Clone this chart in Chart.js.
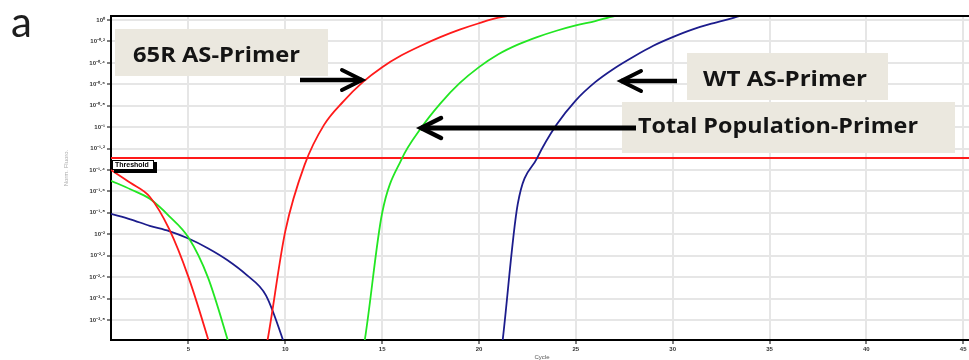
<!DOCTYPE html>
<html>
<head>
<meta charset="utf-8">
<script src="https://cdn.jsdelivr.net/npm/chart.js@4.4.1/dist/chart.umd.min.js"></script>
<style>
  html, body { margin: 0; padding: 0; background: #ffffff; }
  #wrap { width: 969px; height: 360px; position: relative; }
</style>
</head>
<body>
<div id="wrap"><canvas id="amp" width="969" height="360"></canvas></div>
<script>
// Amplification cycles
const cycles = [1, 2, 3, 4, 5, 6, 7, 8, 9, 10, 11, 12, 13, 14, 15, 16, 17, 18, 19, 20,
  21, 22, 23, 24, 25, 26, 27, 28, 29, 30, 31, 32, 33, 34, 35, 36, 37, 38, 39, 40,
  41, 42, 43, 44, 45];

// Normalised fluorescence per cycle
const as65R = [0.0398, 0.0302, 0.0224, 0.0112, 0.00398, 0.00107, 0.000251, 0.000158, 0.000851, 0.0107,
  0.0447, 0.105, 0.174, 0.263, 0.363, 0.468, 0.575, 0.692, 0.813, 0.933,
  1.05, 1.12, 1.15, 1.17, 1.19, 1.20, 1.21, 1.22, 1.23, 1.24,
  1.25, 1.25, 1.26, 1.26, 1.27, 1.27, 1.28, 1.28, 1.28, 1.29,
  1.29, 1.29, 1.30, 1.30, 1.30];

const totalPop = [0.0316, 0.0263, 0.0214, 0.0148, 0.00933, 0.00398, 0.00107, 0.000251, 0.000200, 0.000178,
  0.000166, 0.000158, 0.000195, 0.000794, 0.0158, 0.0501, 0.0977, 0.166, 0.257, 0.363,
  0.479, 0.589, 0.692, 0.794, 0.891, 0.977, 1.09, 1.14, 1.17, 1.19,
  1.20, 1.21, 1.22, 1.23, 1.24, 1.25, 1.25, 1.26, 1.26, 1.27,
  1.27, 1.28, 1.28, 1.28, 1.29];

const asWT = [0.0155, 0.0138, 0.0120, 0.0107, 0.00912, 0.00741, 0.00575, 0.00417, 0.00269, 0.000891,
  0.000251, 0.000200, 0.000178, 0.000166, 0.000158, 0.000151, 0.000148, 0.000145, 0.000148, 0.000155,
  0.000501, 0.0191, 0.0513, 0.105, 0.178, 0.263, 0.355, 0.457, 0.575, 0.692,
  0.813, 0.923, 1.03, 1.15, 1.17, 1.18, 1.19, 1.20, 1.21, 1.22,
  1.23, 1.24, 1.24, 1.25, 1.25];

const thresholdLevel = 0.0515;

// Axis ticks
const xTicks = [5, 10, 15, 20, 25, 30, 35, 40, 45];
const yTickExponents = [0, -0.2, -0.4, -0.6, -0.8, -1, -1.2, -1.4, -1.6, -1.8, -2, -2.2, -2.4, -2.6, -2.8];
const yTickLabels = ['10⁰', '10⁻⁰·²', '10⁻⁰·⁴', '10⁻⁰·⁶', '10⁻⁰·⁸', '10⁻¹', '10⁻¹·²', '10⁻¹·⁴',
  '10⁻¹·⁶', '10⁻¹·⁸', '10⁻²', '10⁻²·²', '10⁻²·⁴', '10⁻²·⁶', '10⁻²·⁸'];

const toPoints = vals => cycles.map((c, i) => ({ x: c, y: vals[i] }));

const LABEL_FONT = '"Open Sans", Lato, "DejaVu Sans", sans-serif';

function drawArrow(ctx, x1, y1, x2, y2, shaftW, headLen, headHalf) {
  ctx.save();
  ctx.strokeStyle = '#000';
  ctx.lineCap = 'butt';
  ctx.lineWidth = shaftW;
  ctx.beginPath();
  ctx.moveTo(x1, y1);
  ctx.lineTo(x2, y2);
  ctx.stroke();
  const dir = Math.sign(x2 - x1);
  ctx.lineWidth = shaftW - 0.5;
  ctx.lineCap = 'round';
  ctx.lineJoin = 'miter';
  ctx.beginPath();
  ctx.moveTo(x2 - dir * headLen, y2 - headHalf);
  ctx.lineTo(x2, y2);
  ctx.lineTo(x2 - dir * headLen, y2 + headHalf);
  ctx.stroke();
  ctx.restore();
}

// Beige callout with bold text stretched to span [tx, tx + tw]
function drawLabelBox(ctx, x, y, w, h, text, tx, tw, ty) {
  ctx.save();
  ctx.fillStyle = '#ebe8df';
  ctx.fillRect(x, y, w, h);
  ctx.fillStyle = '#141414';
  ctx.font = 'bold 21px ' + LABEL_FONT;
  ctx.textBaseline = 'middle';
  ctx.textAlign = 'left';
  const m = ctx.measureText(text).width;
  ctx.translate(tx, ty);
  ctx.scale(tw / m, 1);
  ctx.fillText(text, 0, 0);
  ctx.restore();
}

const decorations = {
  id: 'decorations',
  afterDatasetsDraw(chart) {
    const { ctx, chartArea: a, scales } = chart;
    // frame top edge
    ctx.save();
    ctx.strokeStyle = '#000';
    ctx.lineWidth = 2;
    ctx.beginPath();
    ctx.moveTo(a.left, a.top);
    ctx.lineTo(a.right, a.top);
    ctx.stroke();
    ctx.restore();

    // threshold tag
    const ty = scales.y.getPixelForValue(thresholdLevel);
    ctx.save();
    ctx.fillStyle = '#000';
    ctx.fillRect(a.left + 3, ty + 4, 43, 11);
    ctx.fillStyle = '#fff';
    ctx.fillRect(a.left + 1, ty + 2, 42, 10);
    ctx.strokeStyle = '#000';
    ctx.lineWidth = 1;
    ctx.strokeRect(a.left + 1.5, ty + 2.5, 41, 9);
    ctx.fillStyle = '#000';
    ctx.font = 'bold 7px "Liberation Sans", Arial, sans-serif';
    ctx.textBaseline = 'middle';
    ctx.fillText('Threshold', a.left + 4, ty + 7.5);
    ctx.restore();

    // callouts
    drawLabelBox(ctx, 115, 29, 213, 47, '65R AS-Primer', 133, 167, 56);
    drawArrow(ctx, 300, 80, 362, 80, 4.5, 20, 10);

    drawLabelBox(ctx, 687, 53, 201, 47, 'WT AS-Primer', 703, 164, 80);
    drawArrow(ctx, 677, 81, 621, 81, 4.5, 20, 10);

    drawLabelBox(ctx, 622, 102, 333, 51, 'Total Population-Primer', 638, 280, 127);
    drawArrow(ctx, 636, 128, 421, 128, 5, 20, 10);
  },
  afterDraw(chart) {
    const { ctx } = chart;
    ctx.save();
    // axis titles
    ctx.fillStyle = '#555';
    ctx.font = '6px "Liberation Sans", Arial, sans-serif';
    ctx.textAlign = 'center';
    ctx.textBaseline = 'middle';
    ctx.fillText('Cycle', 542, 357);
    ctx.translate(66, 168);
    ctx.rotate(-Math.PI / 2);
    ctx.fillStyle = '#aaa';
    ctx.fillText('Norm. Fluoro.', 0, 0);
    ctx.restore();

    // panel letter
    ctx.save();
    ctx.fillStyle = '#1e1e1e';
    ctx.font = '42px Lato, "Open Sans", sans-serif';
    ctx.textBaseline = 'alphabetic';
    ctx.textAlign = 'left';
    ctx.fillText('a', 11, 37);
    ctx.restore();
  }
};

const curveStyle = { borderWidth: 1.8, pointRadius: 0, cubicInterpolationMode: 'monotone' };

new Chart(document.getElementById('amp'), {
  type: 'line',
  data: {
    datasets: [
      { label: '65R AS-Primer', data: toPoints(as65R), borderColor: '#ff1a1a', ...curveStyle },
      { label: 'Total Population-Primer', data: toPoints(totalPop), borderColor: '#22e622', ...curveStyle },
      { label: 'WT AS-Primer', data: toPoints(asWT), borderColor: '#1c1c8c', ...curveStyle },
      { label: 'Threshold', data: [{ x: 1, y: thresholdLevel }, { x: 45.3, y: thresholdLevel }], borderColor: '#ff1a1a', borderWidth: 2, pointRadius: 0 }
    ]
  },
  options: {
    responsive: false,
    animation: false,
    devicePixelRatio: 1,
    layout: { padding: { top: 16, left: 0, right: 0, bottom: 0 } },
    plugins: { legend: { display: false }, tooltip: { enabled: false } },
    scales: {
      x: {
        type: 'linear',
        min: 1,
        max: 45.3,
        afterBuildTicks: s => { s.ticks = xTicks.map(v => ({ value: v })); },
        afterFit: s => { s.height = 20; },
        ticks: { autoSkip: false, maxRotation: 0, padding: 2, color: '#333',
          font: { size: 6, weight: 'bold', family: '"Liberation Sans", Arial, sans-serif' } },
        grid: { color: '#e6e6e6', lineWidth: 2, tickLength: 4, tickColor: '#000', tickWidth: 1 },
        border: { display: true, color: '#000', width: 2 }
      },
      y: {
        type: 'logarithmic',
        min: 0.00103,
        max: 1.09,
        afterBuildTicks: s => { s.ticks = yTickExponents.map(e => ({ value: Math.pow(10, e) })); },
        afterFit: s => { s.width = 111; },
        ticks: {
          autoSkip: false, padding: 2, color: '#333',
          font: { size: 6, weight: 'bold', family: '"Liberation Sans", Arial, sans-serif' },
          callback: (v, i) => yTickLabels[i]
        },
        grid: { color: '#e6e6e6', lineWidth: 2, tickLength: 4, tickColor: '#000', tickWidth: 1 },
        border: { display: true, color: '#000', width: 2 }
      }
    }
  },
  plugins: [decorations]
});
</script>
</body>
</html>
